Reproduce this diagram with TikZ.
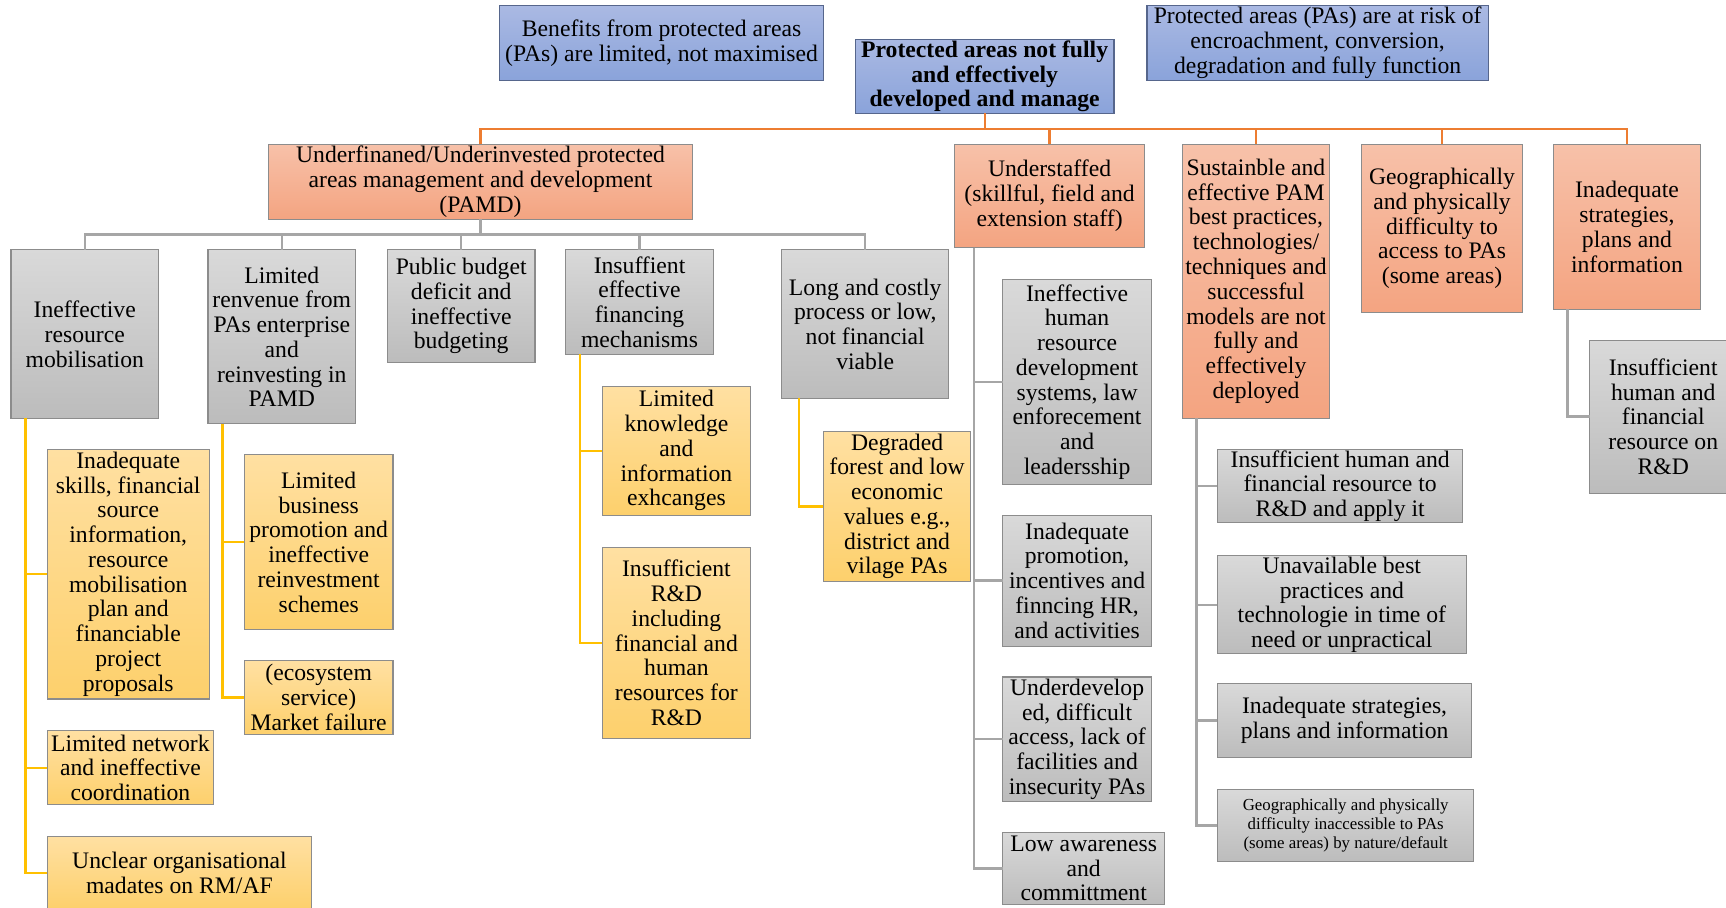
\documentclass[tikz,border=0pt]{standalone}
\usepackage{fontspec}
\setmainfont{Liberation Serif}
\definecolor{blueT}{HTML}{AAB9E3}
\definecolor{blueB}{HTML}{8AA3DA}
\definecolor{blueline}{HTML}{56668C}
\definecolor{salT}{HTML}{F7C1A9}
\definecolor{salB}{HTML}{F4A481}
\definecolor{grayT}{HTML}{D9D9D9}
\definecolor{grayB}{HTML}{BCBCBC}
\definecolor{yelT}{HTML}{FFE0A2}
\definecolor{yelB}{HTML}{FDD06C}
\definecolor{boxline}{HTML}{8C8C8C}
\definecolor{lineO}{HTML}{ED7D31}
\definecolor{lineG}{HTML}{A6A6A6}
\definecolor{lineY}{HTML}{FFC000}
\newcommand\bodyfont{\fontsize{21.5}{22.5}\selectfont}
\newcommand\smallbody{\fontsize{15.3}{17.5}\selectfont}
% \placebox{style}{name}{x1}{y1}{x2}{y2}{text}
\newcommand\placebox[7]{%
  \node[#1, minimum width={(#5-#3)*1pt}, minimum height={(#6-#4)*1pt}] (#2) at (#3,#4) {#7};}
\begin{document}
\begin{tikzpicture}[x=1pt,y=-1pt,
  box/.style={draw=boxline, line width=1pt, align=center, inner sep=1pt,
    outer sep=0pt, font=\bodyfont, anchor=north west},
  bluebox/.style={box, draw=blueline, top color=blueT, bottom color=blueB},
  redbox/.style={box, top color=salT, bottom color=salB},
  greybox/.style={box, top color=grayT, bottom color=grayB},
  ambbox/.style={box, top color=yelT, bottom color=yelB},
  oline/.style={draw=lineO, line width=2pt},
  gline/.style={draw=lineG, line width=2.2pt},
  yline/.style={draw=lineY, line width=2.2pt},
]
\fill[white] (0,0) rectangle (1568,824);
\useasboundingbox (0,0) rectangle (1568,824);

% problem statements
\placebox{bluebox}{ben}{454}{5}{748}{73}{Benefits from protected areas\\(PAs) are limited, not maximised}
\placebox{bluebox, font=\bodyfont\bfseries}{main}{777}{36}{1012}{103}{Protected areas not fully\\and effectively\\developed and manage}
\placebox{bluebox}{risk}{1042}{5}{1352}{73}{Protected areas (PAs) are at risk of\\encroachment, conversion,\\degradation and fully function}

% main causes
\placebox{redbox}{uf}{244}{131}{629}{199}{Underfinaned/Underinvested protected\\areas management and development\\(PAMD)}
\placebox{redbox}{us}{867}{131}{1040}{225}{Understaffed\\(skillful, field and\\extension staff)}
\placebox{redbox}{sb}{1074}{131}{1208}{380}{Sustainble and\\effective PAM\\best practices,\\technologies/\\techniques and\\successful\\models are not\\fully and\\effectively\\deployed}
\placebox{redbox}{gp}{1237}{131}{1383}{284}{Geographically\\and physically\\difficulty to\\access to PAs\\(some areas)}
\placebox{redbox}{ia}{1411}{131}{1545}{281}{Inadequate\\strategies,\\plans and\\information}

% financing causes
\placebox{greybox}{g1}{10}{227}{144}{380}{Ineffective\\resource\\mobilisation}
\placebox{greybox}{g2}{189}{227}{323}{385}{Limited\\renvenue from\\PAs enterprise\\and\\reinvesting in\\PAMD}
\placebox{greybox}{g3}{352}{227}{486}{329}{Public budget\\deficit and\\ineffective\\budgeting}
\placebox{greybox}{g4}{514}{227}{648}{322}{Insuffient\\effective\\financing\\mechanisms}
\placebox{greybox}{g5}{710}{227}{862}{362}{Long and costly\\process or low,\\not financial\\viable}

% root causes of the financing problems
\placebox{ambbox}{y1}{43}{408}{190}{635}{Inadequate\\skills, financial\\source\\information,\\resource\\mobilisation\\plan and\\financiable\\project\\proposals}
\placebox{ambbox}{y2}{43}{664}{194}{731}{Limited network\\and ineffective\\coordination}
\placebox{ambbox}{y3}{43}{760}{283}{826}{Unclear organisational\\madates on RM/AF}
\placebox{ambbox}{y4}{222}{413}{357}{572}{Limited\\business\\promotion and\\ineffective\\reinvestment\\schemes}
\placebox{ambbox}{y5}{222}{600}{357}{667}{(ecosystem\\service)\\Market failure}
\placebox{ambbox}{y6}{547}{351}{682}{468}{Limited\\knowledge\\and\\information\\exhcanges}
\placebox{ambbox}{y7}{547}{497}{682}{671}{Insufficient\\R\&D\\including\\financial and\\human\\resources for\\R\&D}
\placebox{ambbox}{y8}{748}{392}{882}{528}{Degraded\\forest and low\\economic\\values e.g.,\\district and\\vilage PAs}

% staffing causes
\placebox{greybox}{s1}{911}{254}{1046}{440}{Ineffective\\human\\resource\\development\\systems, law\\enforecement\\and\\leadersship}
\placebox{greybox}{s2}{911}{468}{1046}{587}{Inadequate\\promotion,\\incentives and\\finncing HR,\\and activities}
\placebox{greybox}{s3}{911}{615}{1046}{728}{Underdevelop\\ed, difficult\\access, lack of\\facilities and\\insecurity PAs}
\placebox{greybox}{s4}{911}{756}{1058}{822}{Low awareness\\and\\committment}

% best-practice causes
\placebox{greybox}{t1}{1106}{408}{1329}{475}{Insufficient human and\\financial resource to\\R\&D and apply it}
\placebox{greybox}{t2}{1106}{505}{1332}{593}{Unavailable best\\practices and\\technologie in time of\\need or unpractical}
\placebox{greybox}{t3}{1106}{621}{1337}{688}{Inadequate strategies,\\plans and information}
\placebox{greybox, font=\smallbody}{t4}{1106}{717}{1339}{783}{Geographically and physically\\difficulty inaccessible to PAs\\(some areas) by nature/default}

% planning causes
\placebox{greybox}{r1}{1444}{309}{1578}{448}{Insufficient\\human and\\financial\\resource on\\R\&D}

% connectors
\coordinate (obus) at (0,117);
\coordinate (gbus) at (0,213);
\foreach \c in {uf,us,sb,gp,ia}
  \draw[oline] (main.south) |- (\c.north |- obus) -- (\c.north);
\foreach \c in {g1,g2,g3,g4,g5}
  \draw[gline] (uf.south) |- (\c.north |- gbus) -- (\c.north);

\foreach \c in {y1,y2,y3}
  \draw[yline] ([xshift=13pt]g1.south west) |- (\c.west);
\foreach \c in {y4,y5}
  \draw[yline] ([xshift=13pt]g2.south west) |- (\c.west);
\foreach \c in {y6,y7}
  \draw[yline] ([xshift=13pt]g4.south west) |- (\c.west);
\draw[yline] ([xshift=16pt]g5.south west) |- (y8.west);

\foreach \c in {s1,s2,s3,s4}
  \draw[gline] ([xshift=18pt]us.south west) |- (\c.west);
\foreach \c in {t1,t2,t3,t4}
  \draw[gline] ([xshift=13pt]sb.south west) |- (\c.west);
\draw[gline] ([xshift=13pt]ia.south west) |- (r1.west);
\end{tikzpicture}
\end{document}
